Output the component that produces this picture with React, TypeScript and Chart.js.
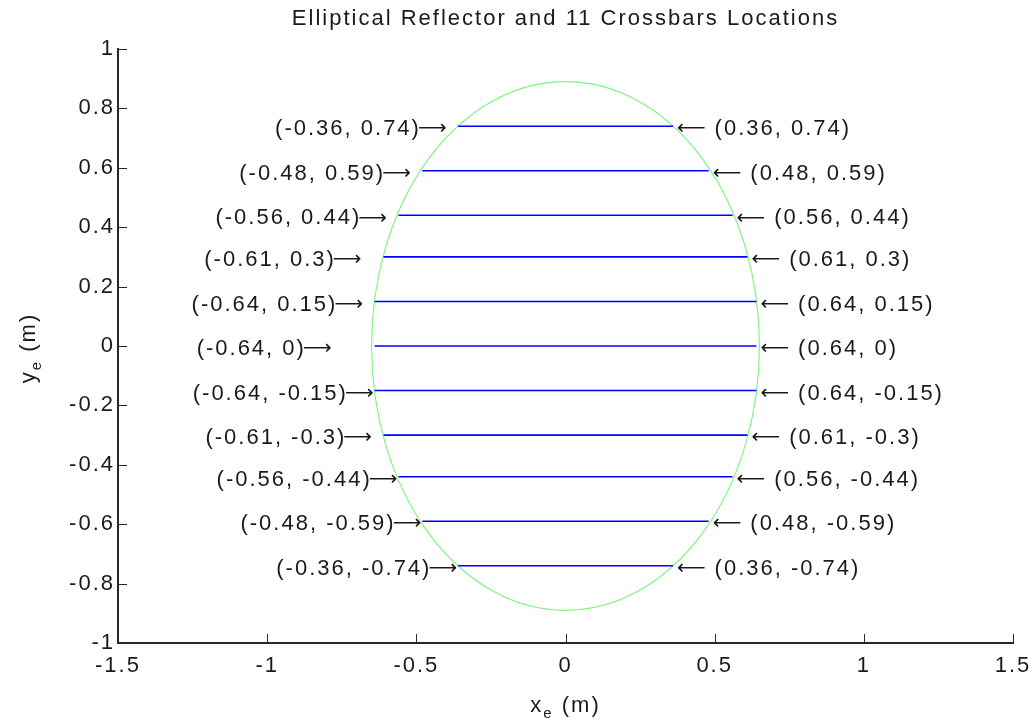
import { useEffect, useRef } from 'react';
import { Chart, registerables } from 'chart.js';

Chart.register(...registerables);

// ---- data ----
const titleText = 'Elliptical Reflector and 11 Crossbars Locations';
const crossbarY = [0.74, 0.59, 0.44, 0.3, 0.15, 0, -0.15, -0.3, -0.44, -0.59, -0.74];
const crossbarHalfWidth = [0.36, 0.48, 0.56, 0.61, 0.64, 0.64, 0.64, 0.61, 0.56, 0.48, 0.36];
const ellipseCenter = [0, 0];
const ellipseSemiAxes = [0.65, 0.89]; // [x semi-axis, y semi-axis]
const xLimits = [-1.5, 1.5];
const yLimits = [-1, 1];
const xTicks = [-1.5, -1, -0.5, 0, 0.5, 1, 1.5];
const yTicks = [-1, -0.8, -0.6, -0.4, -0.2, 0, 0.2, 0.4, 0.6, 0.8, 1];
const xAxisLabel = ['x', 'e', ' (m)'];
const yAxisLabel = ['y', 'e', ' (m)'];
const rightArrow = '\u27F6';
const leftArrow = '\u27F5';

// ---- style ----
const FAMILY = "'Liberation Sans', Arial, Helvetica, sans-serif";
const ARROW_FAMILY = "'DejaVu Sans', 'Noto Sans', sans-serif";
const FONT_SIZE = 22;
const LS = '2px';
const TEXT_COLOR = '#1a1a1a';
const AXIS_COLOR = '#262626';

const fmt = (v: number) => String(v === 0 ? 0 : v);

const decorPlugin = {
  id: 'decor',
  beforeUpdate(chart: any) {
    chart.ctx.letterSpacing = LS;
  },
  beforeDraw(chart: any) {
    chart.ctx.letterSpacing = LS;
  },
  beforeDatasetsDraw(chart: any) {
    const { ctx, scales } = chart;
    const x = scales.x, y = scales.y;
    const cx = x.getPixelForValue(ellipseCenter[0]);
    const cy = y.getPixelForValue(ellipseCenter[1]);
    const rx = x.getPixelForValue(ellipseCenter[0] + ellipseSemiAxes[0]) - cx;
    const ry = cy - y.getPixelForValue(ellipseCenter[1] + ellipseSemiAxes[1]);
    ctx.save();
    ctx.strokeStyle = '#7cf57c';
    ctx.lineWidth = 1.1;
    ctx.beginPath();
    ctx.ellipse(cx, cy, rx, ry, 0, 0, Math.PI * 2);
    ctx.stroke();
    ctx.restore();
  },
  afterDraw(chart: any) {
    const { ctx, scales, chartArea } = chart;
    const x = scales.x, y = scales.y;
    ctx.save();
    ctx.letterSpacing = LS;
    // inward tick marks
    ctx.strokeStyle = AXIS_COLOR;
    ctx.lineWidth = 1;
    ctx.beginPath();
    xTicks.forEach((t) => {
      const px = Math.round(x.getPixelForValue(t)) + 0.5;
      ctx.moveTo(px, chartArea.bottom);
      ctx.lineTo(px, chartArea.bottom - 9);
    });
    yTicks.forEach((t) => {
      const py = Math.round(y.getPixelForValue(t)) + 0.5;
      ctx.moveTo(chartArea.left, py);
      ctx.lineTo(chartArea.left + 9, py);
    });
    ctx.stroke();

    // crossbar annotations
    ctx.fillStyle = TEXT_COLOR;
    ctx.textBaseline = 'middle';
    const textFont = `${FONT_SIZE}px ${FAMILY}`;
    const arrowFont = `${FONT_SIZE - 2}px ${ARROW_FAMILY}`;
    ctx.font = arrowFont;
    ctx.letterSpacing = '0px';
    const arrowW = ctx.measureText(rightArrow).width;
    ctx.letterSpacing = LS;
    const leftCores = crossbarY.map((yv, i) => `(${fmt(-crossbarHalfWidth[i])}, ${fmt(yv)})`);
    const maxLen = Math.max(...leftCores.map((s) => s.length));
    crossbarY.forEach((yv, i) => {
      const h = crossbarHalfWidth[i];
      const py = y.getPixelForValue(yv) + 3;
      const pl = x.getPixelForValue(-h);
      const pr = x.getPixelForValue(h);
      const core = leftCores[i];
      // left label: "(...)→"
      const tip = pl - 1 - (maxLen - core.length) * 10.5;
      ctx.letterSpacing = '0px';
      ctx.font = arrowFont;
      ctx.textAlign = 'right';
      ctx.fillText(rightArrow, tip, py);
      ctx.letterSpacing = LS;
      ctx.font = textFont;
      ctx.fillText(core, tip - arrowW + 3, py);
      // right label: "← (...)"
      ctx.letterSpacing = '0px';
      ctx.font = arrowFont;
      ctx.textAlign = 'left';
      ctx.fillText(leftArrow, pr + 4, py);
      ctx.letterSpacing = LS;
      ctx.font = textFont;
      ctx.fillText(`(${fmt(h)}, ${fmt(yv)})`, pr + 4 + arrowW + 9, py);
    });

    // axis titles with subscripts
    const drawSub = (parts: string[], cxp: number, baseY: number) => {
      ctx.textAlign = 'left';
      ctx.textBaseline = 'alphabetic';
      ctx.font = `${FONT_SIZE}px ${FAMILY}`;
      const w0 = ctx.measureText(parts[0]).width;
      const w2 = ctx.measureText(parts[2]).width;
      ctx.font = `15px ${FAMILY}`;
      const w1 = ctx.measureText(parts[1]).width;
      let sx = cxp - (w0 + w1 + w2) / 2;
      ctx.font = `${FONT_SIZE}px ${FAMILY}`;
      ctx.fillText(parts[0], sx, baseY);
      sx += w0;
      ctx.font = `15px ${FAMILY}`;
      ctx.fillText(parts[1], sx, baseY + 6);
      sx += w1;
      ctx.font = `${FONT_SIZE}px ${FAMILY}`;
      ctx.fillText(parts[2], sx, baseY);
    };
    const midX = (chartArea.left + chartArea.right) / 2;
    const midY = (chartArea.top + chartArea.bottom) / 2;
    drawSub(xAxisLabel, midX, 712);
    ctx.translate(35, midY + 2);
    ctx.rotate(-Math.PI / 2);
    drawSub(yAxisLabel, 0, 0);
    ctx.restore();
  },
};

export default function App() {
  const ref = useRef<HTMLCanvasElement | null>(null);
  useEffect(() => {
    if (!ref.current) return;
    const datasets = crossbarY.map((yv, i) => ({
      label: `crossbar ${i + 1}`,
      data: [
        { x: -crossbarHalfWidth[i], y: yv },
        { x: crossbarHalfWidth[i], y: yv },
      ],
      showLine: true,
      borderColor: '#0000ff',
      backgroundColor: '#0000ff',
      borderWidth: 1.6,
      pointRadius: 0,
    }));
    const chart = new Chart(ref.current, {
      type: 'scatter',
      data: { datasets },
      plugins: [decorPlugin],
      options: {
        responsive: false,
        animation: false,
        devicePixelRatio: 1,
        layout: { padding: { left: 0, right: 21, top: 0, bottom: 0 } },
        plugins: {
          legend: { display: false },
          tooltip: { enabled: false },
          title: {
            display: true,
            text: titleText,
            fullSize: false,
            color: TEXT_COLOR,
            font: { family: FAMILY, size: FONT_SIZE, weight: 'normal' },
            padding: { top: 6, bottom: 16.6 },
          },
        },
        scales: {
          x: {
            type: 'linear',
            min: xLimits[0],
            max: xLimits[1],
            afterBuildTicks: (s: any) => {
              s.ticks = xTicks.map((v) => ({ value: v }));
            },
            afterFit: (s: any) => {
              s.height = 84;
              s.paddingLeft = 0;
              s.paddingRight = 0;
            },
            grid: { display: false, drawTicks: false },
            border: { display: true, color: AXIS_COLOR, width: 2 },
            ticks: {
              color: TEXT_COLOR,
              font: { family: FAMILY, size: FONT_SIZE },
              padding: 10,
              maxRotation: 0,
              autoSkip: false,
              callback: (v: any) => fmt(Number(v)),
            },
          },
          y: {
            type: 'linear',
            min: yLimits[0],
            max: yLimits[1],
            afterBuildTicks: (s: any) => {
              s.ticks = yTicks.map((v) => ({ value: v }));
            },
            afterFit: (s: any) => {
              s.width = 118;
            },
            grid: { display: false, drawTicks: false },
            border: { display: true, color: AXIS_COLOR, width: 2 },
            ticks: {
              color: TEXT_COLOR,
              font: { family: FAMILY, size: FONT_SIZE },
              padding: 3,
              autoSkip: false,
              callback: (v: any) => fmt(Number(v)),
            },
          },
        },
      },
    } as any);
    return () => chart.destroy();
  }, []);
  return (
    <div style={{ position: 'absolute', left: 0, top: 0, width: 1034, height: 727, background: '#fff' }}>
      <canvas ref={ref} width={1034} height={727} style={{ width: 1034, height: 727 }} />
    </div>
  );
}
